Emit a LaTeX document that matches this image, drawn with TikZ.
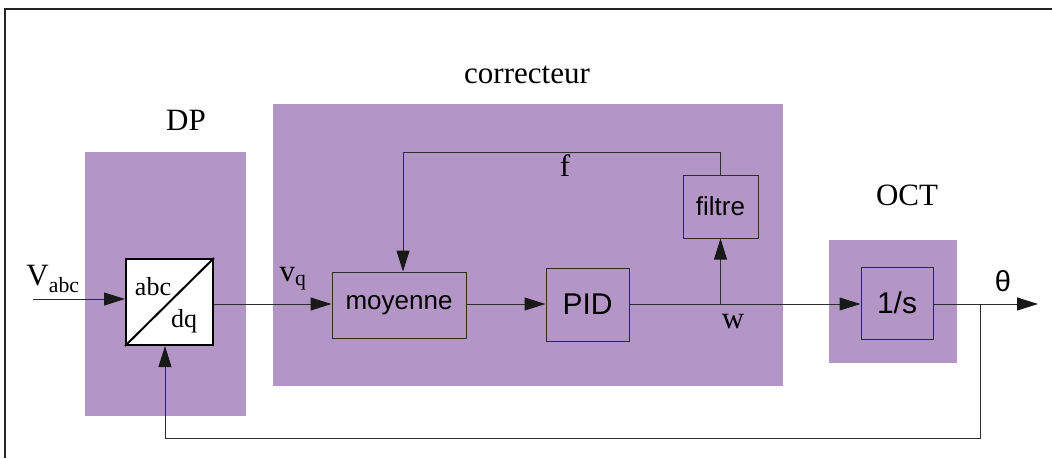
\documentclass[tikz,border=0pt]{standalone}
\usepackage{fontspec}
\setmainfont{Liberation Serif}
\setsansfont{Liberation Sans}
\usetikzlibrary{arrows.meta}
\definecolor{zonecol}{RGB}{180,150,198}
\definecolor{linecol}{RGB}{45,45,45}
\begin{document}
\begin{tikzpicture}[
        x=1pt, y=-1pt,
        zonen/.style={fill=zonecol, draw=none, inner sep=0pt},
        blockn/.style={draw=linecol, line width=1pt, inner sep=0pt, font=\sffamily\fontsize{30}{36}\selectfont},
        smalln/.style={font=\sffamily\fontsize{26}{31}\selectfont},
        labeln/.style={inner sep=0pt, font=\fontsize{31}{37}\selectfont},
        wire/.style={draw=linecol, line width=1pt},
        sig/.style={wire, -{Triangle[length=21pt,width=13pt,color=black!90]}},
    ]
    \useasboundingbox (0,0) rectangle (1052,458);
    \draw[line width=2pt, black!85] (5,458) |- (1052,9);

    \node[zonen, minimum width=161pt, minimum height=264pt](dpz) at (165.5,284){};
    \node[zonen, minimum width=510pt, minimum height=282pt](corz) at (528,245){};
    \node[zonen, minimum width=128pt, minimum height=123pt](octz) at (893,301.5){};
    \node[labeln](dp) at (186,120){DP};
    \node[labeln](cor) at (527,75){correcteur};
    \node[labeln](oct) at (907,195){OCT};

    \node[blockn, fill=white, draw=black, line width=2pt, minimum width=87pt, minimum height=86pt](abcdq) at (169.5,302){};
    \draw[line width=2pt] (abcdq.south west) -- (abcdq.north east);
    \node[labeln, font=\fontsize{26}{31}\selectfont](abc) at (153,287){abc};
    \node[labeln, font=\fontsize{26}{31}\selectfont](dq) at (184,321){dq};
    \node[blockn, smalln, minimum width=134pt, minimum height=66pt](moy) at (399,305){moyenne};
    \node[blockn, minimum width=83pt, minimum height=73pt](pid) at (587.5,304.5){PID};
    \node[blockn, smalln, minimum width=75pt, minimum height=63pt](filtre) at (720.5,206.5){filtre};
    \node[blockn, minimum width=72pt, minimum height=72pt](integ) at (897,303){1/s};

    \node[labeln](vabc) at (53,279){V\textsubscript{abc}};
    \node[labeln](vq) at (293,279){v\textsubscript{q}};
    \node[labeln](f) at (565,166){f};
    \node[labeln](w) at (733,322){w};
    \node[labeln, font=\sffamily\fontsize{29}{34}\selectfont](theta) at (1003,281){θ};

    \coordinate (vin) at (33,299);
    \coordinate (wbr) at (filtre.south |- 0,304);
    \coordinate (ftop) at (403,152);
    \coordinate (obr) at (980,304);
    \coordinate (fbot) at (980,438);
    \coordinate (out) at (1038,304);

    \draw[sig] (vin) -- (abcdq.west |- vin);
    \draw[sig] (abcdq.east |- 0,304) -- (moy.west |- 0,304);
    \draw[sig] (moy.east |- 0,304) -- (pid.west |- 0,304);
    \draw[sig] (pid.east |- 0,304) -- (integ.west |- 0,304);
    \draw[sig] (wbr) -- (filtre.south);
    \draw[sig] (filtre.north) |- (ftop) -- (ftop |- moy.north);
    \draw[sig] (integ.east |- 0,304) -- (out);
    \draw[sig] (obr) -- (fbot) -| ([xshift=-4.5pt]abcdq.south);
\end{tikzpicture}
\end{document}
